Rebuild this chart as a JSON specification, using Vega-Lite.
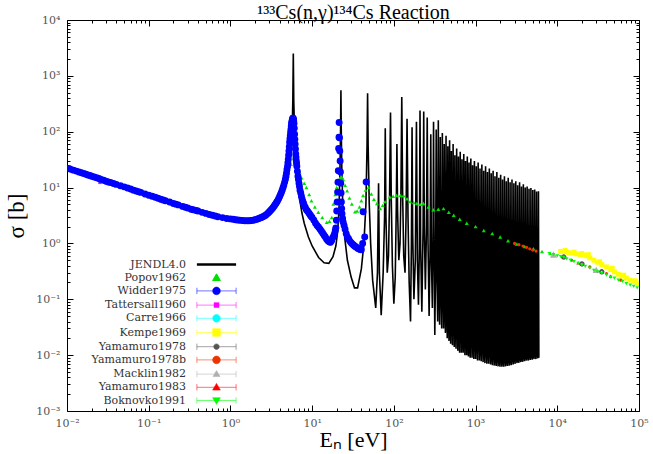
{
  "$schema": "https://vega.github.io/schema/vega-lite/v6.json",
  "width": 572,
  "height": 391,
  "autosize": {"type": "none"},
  "padding": {"left": 67, "top": 20, "right": 14, "bottom": 43},
  "background": "white",
  "config": {
    "font": "Liberation Serif",
    "view": {"stroke": "black", "strokeWidth": 1},
    "axis": {"grid": false, "domain": false, "tickColor": "black", "tickWidth": 1, "labelFont": "DejaVu Serif", "labelFontSize": 11, "labelColor": "#555", "titleFont": "Liberation Serif", "titleFontWeight": "normal", "titleColor": "black"}
  },
  "data": {"values": [
    {"series":"JENDL4.0","E":0.01,"s":22},{"series":"JENDL4.0","E":0.015,"s":18.2},{"series":"JENDL4.0","E":0.02,"s":16},{"series":"JENDL4.0","E":0.03,"s":13},{"series":"JENDL4.0","E":0.05,"s":10.3},{"series":"JENDL4.0","E":0.07,"s":8.7},{"series":"JENDL4.0","E":0.1,"s":7.3},{"series":"JENDL4.0","E":0.15,"s":6},{"series":"JENDL4.0","E":0.2,"s":5.2},{"series":"JENDL4.0","E":0.3,"s":4.3},{"series":"JENDL4.0","E":0.5,"s":3.4},{"series":"JENDL4.0","E":0.7,"s":3.0},{"series":"JENDL4.0","E":1,"s":2.7},{"series":"JENDL4.0","E":1.5,"s":2.55},{"series":"JENDL4.0","E":2,"s":2.65},{"series":"JENDL4.0","E":2.5,"s":2.95},{"series":"JENDL4.0","E":3,"s":3.5},{"series":"JENDL4.0","E":3.5,"s":4.4},{"series":"JENDL4.0","E":4,"s":5.8},{"series":"JENDL4.0","E":4.5,"s":8.5},{"series":"JENDL4.0","E":5,"s":14},{"series":"JENDL4.0","E":5.3,"s":24},{"series":"JENDL4.0","E":5.5,"s":42},{"series":"JENDL4.0","E":5.7,"s":110},{"series":"JENDL4.0","E":5.8,"s":350},{"series":"JENDL4.0","E":5.88,"s":2500},{"series":"JENDL4.0","E":5.96,"s":350},{"series":"JENDL4.0","E":6.1,"s":100},{"series":"JENDL4.0","E":6.3,"s":38},{"series":"JENDL4.0","E":6.6,"s":14},{"series":"JENDL4.0","E":7,"s":6.5},{"series":"JENDL4.0","E":7.5,"s":3.5},{"series":"JENDL4.0","E":8,"s":2.3},{"series":"JENDL4.0","E":9,"s":1.3},{"series":"JENDL4.0","E":10,"s":0.9},{"series":"JENDL4.0","E":12,"s":0.56},{"series":"JENDL4.0","E":14,"s":0.45},{"series":"JENDL4.0","E":16,"s":0.44},{"series":"JENDL4.0","E":18,"s":0.58},{"series":"JENDL4.0","E":19.5,"s":0.9},{"series":"JENDL4.0","E":20.5,"s":1.6},{"series":"JENDL4.0","E":21.3,"s":4},{"series":"JENDL4.0","E":21.9,"s":20},{"series":"JENDL4.0","E":22.3,"s":120},{"series":"JENDL4.0","E":22.5,"s":550},{"series":"JENDL4.0","E":22.7,"s":120},{"series":"JENDL4.0","E":23.1,"s":20},{"series":"JENDL4.0","E":23.8,"s":4},{"series":"JENDL4.0","E":25,"s":1.3},{"series":"JENDL4.0","E":27,"s":0.5},{"series":"JENDL4.0","E":30,"s":0.25},{"series":"JENDL4.0","E":33,"s":0.16},{"series":"JENDL4.0","E":36,"s":0.16},{"series":"JENDL4.0","E":40,"s":0.35},{"series":"JENDL4.0","E":43,"s":1},{"series":"JENDL4.0","E":45.5,"s":5},{"series":"JENDL4.0","E":47,"s":60},{"series":"JENDL4.0","E":47.7,"s":490},{"series":"JENDL4.0","E":48.4,"s":60},{"series":"JENDL4.0","E":50,"s":5},{"series":"JENDL4.0","E":52,"s":1},{"series":"JENDL4.0","E":55,"s":0.22},{"series":"JENDL4.0","E":60,"s":0.07},{"series":"JENDL4.0","E":63,"s":0.3},{"series":"JENDL4.0","E":65,"s":12},{"series":"JENDL4.0","E":66.5,"s":0.3},{"series":"JENDL4.0","E":70,"s":0.052},{"series":"JENDL4.0","E":74,"s":0.3},{"series":"JENDL4.0","E":77,"s":3},{"series":"JENDL4.0","E":78.5,"s":115},{"series":"JENDL4.0","E":80,"s":3},{"series":"JENDL4.0","E":83,"s":0.3},{"series":"JENDL4.0","E":86,"s":0.6},{"series":"JENDL4.0","E":88.5,"s":6},{"series":"JENDL4.0","E":91,"s":220},{"series":"JENDL4.0","E":93,"s":6},{"series":"JENDL4.0","E":96,"s":0.4},{"series":"JENDL4.0","E":100,"s":0.083},{"series":"JENDL4.0","E":104,"s":0.25},{"series":"JENDL4.0","E":107,"s":4},{"series":"JENDL4.0","E":109,"s":60},{"series":"JENDL4.0","E":111,"s":4},{"series":"JENDL4.0","E":115,"s":0.5},{"series":"JENDL4.0","E":119,"s":1},{"series":"JENDL4.0","E":122,"s":8},{"series":"JENDL4.0","E":125,"s":420},{"series":"JENDL4.0","E":128,"s":8},{"series":"JENDL4.0","E":132,"s":0.6},{"series":"JENDL4.0","E":137,"s":0.3},{"series":"JENDL4.0","E":141,"s":3},{"series":"JENDL4.0","E":145,"s":170},{"series":"JENDL4.0","E":149,"s":3},{"series":"JENDL4.0","E":154,"s":0.2},{"series":"JENDL4.0","E":160,"s":0.04},{"series":"JENDL4.0","E":164,"s":1},{"series":"JENDL4.0","E":167,"s":120},{"series":"JENDL4.0","E":170,"s":1.5},{"series":"JENDL4.0","E":176,"s":0.1},{"series":"JENDL4.0","E":183,"s":0.5},{"series":"JENDL4.0","E":189,"s":150},{"series":"JENDL4.0","E":194,"s":0.5},{"series":"JENDL4.0","E":200,"s":0.08},{"series":"JENDL4.0","E":205,"s":0.8},{"series":"JENDL4.0","E":209,"s":240},{"series":"JENDL4.0","E":213,"s":0.8},{"series":"JENDL4.0","E":220,"s":0.06},{"series":"JENDL4.0","E":228,"s":2},{"series":"JENDL4.0","E":232,"s":230},{"series":"JENDL4.0","E":236,"s":2},{"series":"JENDL4.0","E":243,"s":0.15},{"series":"JENDL4.0","E":250,"s":1.5},{"series":"JENDL4.0","E":256,"s":180},{"series":"JENDL4.0","E":262,"s":1},{"series":"JENDL4.0","E":270,"s":0.05},{"series":"JENDL4.0","E":277,"s":0.6},{"series":"JENDL4.0","E":283,"s":90},{"series":"JENDL4.0","E":288,"s":0.6},{"series":"JENDL4.0","E":296,"s":0.07},{"series":"JENDL4.0","E":302,"s":2},{"series":"JENDL4.0","E":306,"s":150},{"series":"JENDL4.0","E":310,"s":2},{"series":"JENDL4.0","E":317,"s":0.023},{"series":"JENDL4.0","E":324,"s":0.4},{"series":"JENDL4.0","E":330,"s":110},{"series":"JENDL4.0","E":336,"s":0.3},{"series":"JENDL4.0","E":344,"s":0.04},{"series":"JENDL4.0","E":350,"s":160},{"series":"JENDL4.0","E":356,"s":0.2},{"series":"JENDL4.0","E":363,"s":0.035},{"series":"JENDL4.0","E":370,"s":80},{"series":"JENDL4.0","E":377,"s":0.15},{"series":"JENDL4.0","E":385,"s":0.03},{"series":"JENDL4.0","E":392,"s":95},{"series":"JENDL4.0","E":398,"s":0.3},{"series":"JENDL4.0","E":406,"s":0.03},{"series":"JENDL4.0","E":413,"s":60},{"series":"JENDL4.0","E":420,"s":0.1},{"series":"JENDL4.0","E":428,"s":0.025},{"series":"JENDL4.0","E":435,"s":85},{"series":"JENDL4.0","E":442,"s":0.2},{"series":"JENDL4.0","E":450,"s":0.02},{"series":"JENDL4.0","E":458,"s":55},{"series":"JENDL4.0","E":465,"s":0.08},{"series":"JENDL4.0","E":473,"s":0.018},{"series":"JENDL4.0","E":481,"s":70},{"series":"JENDL4.0","E":488,"s":0.15},{"series":"JENDL4.0","E":496,"s":0.016},{"series":"JENDL4.0","E":505,"s":45},{"series":"JENDL4.0","E":513,"s":0.06},{"series":"JENDL4.0","E":522,"s":0.015},{"series":"JENDL4.0","E":531,"s":60},{"series":"JENDL4.0","E":540,"s":0.1},{"series":"JENDL4.0","E":549,"s":0.014},{"series":"JENDL4.0","E":558,"s":38},{"series":"JENDL4.0","E":567,"s":0.05},{"series":"JENDL4.0","E":577,"s":0.013},{"series":"JENDL4.0","E":587,"s":50},{"series":"JENDL4.0","E":597,"s":0.08},{"series":"JENDL4.0","E":607,"s":0.012},{"series":"JENDL4.0","E":617,"s":36},{"series":"JENDL4.0","E":627,"s":0.04},{"series":"JENDL4.0","E":638,"s":0.011},{"series":"JENDL4.0","E":649,"s":44},{"series":"JENDL4.0","E":660,"s":0.07},{"series":"JENDL4.0","E":671,"s":0.011},{"series":"JENDL4.0","E":682,"s":32},{"series":"JENDL4.0","E":693,"s":0.03},{"series":"JENDL4.0","E":705,"s":0.011},{"series":"JENDL4.0","E":717,"s":40},{"series":"JENDL4.0","E":729,"s":0.05},{"series":"JENDL4.0","E":741,"s":0.01},{"series":"JENDL4.0","E":753,"s":30},{"series":"JENDL4.0","E":766,"s":0.03},{"series":"JENDL4.0","E":779,"s":0.01},{"series":"JENDL4.0","E":792,"s":36},{"series":"JENDL4.0","E":805,"s":0.05},{"series":"JENDL4.0","E":818,"s":0.0095},{"series":"JENDL4.0","E":832,"s":28},{"series":"JENDL4.0","E":846,"s":0.02},{"series":"JENDL4.0","E":860,"s":0.009},{"series":"JENDL4.0","E":875,"s":33},{"series":"JENDL4.0","E":890,"s":0.04},{"series":"JENDL4.0","E":905,"s":0.009},{"series":"JENDL4.0","E":920,"s":25},{"series":"JENDL4.0","E":936,"s":0.02},{"series":"JENDL4.0","E":952,"s":0.0085},{"series":"JENDL4.0","E":968,"s":30},{"series":"JENDL4.0","E":985,"s":0.03},{"series":"JENDL4.0","E":1002,"s":0.0085},{"series":"JENDL4.0","E":1020,"s":24},{"series":"JENDL4.0","E":1038,"s":0.02},{"series":"JENDL4.0","E":1056,"s":0.008},{"series":"JENDL4.0","E":1075,"s":28},{"series":"JENDL4.0","E":1094,"s":0.025},{"series":"JENDL4.0","E":1113,"s":0.008},{"series":"JENDL4.0","E":1133,"s":22},{"series":"JENDL4.0","E":1153,"s":0.015},{"series":"JENDL4.0","E":1173,"s":0.0078},{"series":"JENDL4.0","E":1194,"s":26},{"series":"JENDL4.0","E":1215,"s":0.02},{"series":"JENDL4.0","E":1236,"s":0.0075},{"series":"JENDL4.0","E":1258,"s":20},{"series":"JENDL4.0","E":1280,"s":0.012},{"series":"JENDL4.0","E":1303,"s":0.0072},{"series":"JENDL4.0","E":1326,"s":24},{"series":"JENDL4.0","E":1350,"s":0.015},{"series":"JENDL4.0","E":1374,"s":0.007},{"series":"JENDL4.0","E":1398,"s":19},{"series":"JENDL4.0","E":1423,"s":0.012},{"series":"JENDL4.0","E":1448,"s":0.007},{"series":"JENDL4.0","E":1474,"s":22},{"series":"JENDL4.0","E":1500,"s":0.015},{"series":"JENDL4.0","E":1527,"s":0.0068},{"series":"JENDL4.0","E":1554,"s":18},{"series":"JENDL4.0","E":1582,"s":0.01},{"series":"JENDL4.0","E":1610,"s":0.0066},{"series":"JENDL4.0","E":1639,"s":20},{"series":"JENDL4.0","E":1668,"s":0.012},{"series":"JENDL4.0","E":1698,"s":0.0065},{"series":"JENDL4.0","E":1728,"s":16},{"series":"JENDL4.0","E":1759,"s":0.009},{"series":"JENDL4.0","E":1790,"s":0.0064},{"series":"JENDL4.0","E":1822,"s":19},{"series":"JENDL4.0","E":1855,"s":0.01},{"series":"JENDL4.0","E":1888,"s":0.0063},{"series":"JENDL4.0","E":1922,"s":15},{"series":"JENDL4.0","E":1956,"s":0.008},{"series":"JENDL4.0","E":1991,"s":0.0062},{"series":"JENDL4.0","E":2027,"s":17},{"series":"JENDL4.0","E":2063,"s":0.009},{"series":"JENDL4.0","E":2100,"s":0.0062},{"series":"JENDL4.0","E":2138,"s":14},{"series":"JENDL4.0","E":2176,"s":0.008},{"series":"JENDL4.0","E":2215,"s":0.0062},{"series":"JENDL4.0","E":2255,"s":16},{"series":"JENDL4.0","E":2295,"s":0.009},{"series":"JENDL4.0","E":2336,"s":0.0063},{"series":"JENDL4.0","E":2378,"s":13},{"series":"JENDL4.0","E":2420,"s":0.008},{"series":"JENDL4.0","E":2464,"s":0.0064},{"series":"JENDL4.0","E":2508,"s":15},{"series":"JENDL4.0","E":2553,"s":0.009},{"series":"JENDL4.0","E":2599,"s":0.0065},{"series":"JENDL4.0","E":2645,"s":12.5},{"series":"JENDL4.0","E":2693,"s":0.008},{"series":"JENDL4.0","E":2741,"s":0.0066},{"series":"JENDL4.0","E":2790,"s":14},{"series":"JENDL4.0","E":2840,"s":0.009},{"series":"JENDL4.0","E":2891,"s":0.0068},{"series":"JENDL4.0","E":2943,"s":12},{"series":"JENDL4.0","E":2996,"s":0.0085},{"series":"JENDL4.0","E":3050,"s":0.007},{"series":"JENDL4.0","E":3104,"s":13},{"series":"JENDL4.0","E":3160,"s":0.009},{"series":"JENDL4.0","E":3217,"s":0.0072},{"series":"JENDL4.0","E":3274,"s":11},{"series":"JENDL4.0","E":3333,"s":0.0085},{"series":"JENDL4.0","E":3393,"s":0.0073},{"series":"JENDL4.0","E":3454,"s":12.5},{"series":"JENDL4.0","E":3516,"s":0.009},{"series":"JENDL4.0","E":3579,"s":0.0075},{"series":"JENDL4.0","E":3643,"s":10.5},{"series":"JENDL4.0","E":3708,"s":0.009},{"series":"JENDL4.0","E":3775,"s":0.0076},{"series":"JENDL4.0","E":3843,"s":11.5},{"series":"JENDL4.0","E":3912,"s":0.0095},{"series":"JENDL4.0","E":3982,"s":0.0078},{"series":"JENDL4.0","E":4053,"s":10},{"series":"JENDL4.0","E":4126,"s":0.0095},{"series":"JENDL4.0","E":4200,"s":0.008},{"series":"JENDL4.0","E":4275,"s":10.5},{"series":"JENDL4.0","E":4352,"s":0.01},{"series":"JENDL4.0","E":4430,"s":0.008},{"series":"JENDL4.0","E":4509,"s":9.5},{"series":"JENDL4.0","E":4590,"s":0.01},{"series":"JENDL4.0","E":4672,"s":0.0082},{"series":"JENDL4.0","E":4756,"s":9.8},{"series":"JENDL4.0","E":4841,"s":0.01},{"series":"JENDL4.0","E":4928,"s":0.0083},{"series":"JENDL4.0","E":5016,"s":9},{"series":"JENDL4.0","E":5106,"s":0.01},{"series":"JENDL4.0","E":5198,"s":0.0085},{"series":"JENDL4.0","E":5291,"s":9.2},{"series":"JENDL4.0","E":5386,"s":0.011},{"series":"JENDL4.0","E":5482,"s":0.0085},{"series":"JENDL4.0","E":5581,"s":8.5},{"series":"JENDL4.0","E":5681,"s":0.01},{"series":"JENDL4.0","E":5783,"s":0.0088},{"series":"JENDL4.0","E":5886,"s":8.6},{"series":"JENDL4.0","E":5950,"s":0.009},

    {"series":"Popov1962","E":1.0,"s":2.8},{"series":"Popov1962","E":1.3,"s":2.6},{"series":"Popov1962","E":1.6,"s":2.6},{"series":"Popov1962","E":2.0,"s":2.7},{"series":"Popov1962","E":2.5,"s":3.0},{"series":"Popov1962","E":3.0,"s":3.5},{"series":"Popov1962","E":3.5,"s":5},{"series":"Popov1962","E":4.0,"s":7},{"series":"Popov1962","E":4.5,"s":10},{"series":"Popov1962","E":5.0,"s":16},{"series":"Popov1962","E":5.5,"s":26},{"series":"Popov1962","E":5.9,"s":33},{"series":"Popov1962","E":6.2,"s":35},{"series":"Popov1962","E":6.6,"s":25},{"series":"Popov1962","E":7.0,"s":19},{"series":"Popov1962","E":7.4,"s":15},{"series":"Popov1962","E":8.0,"s":12},{"series":"Popov1962","E":8.5,"s":10},{"series":"Popov1962","E":9.2,"s":7.5},{"series":"Popov1962","E":9.8,"s":5.8},{"series":"Popov1962","E":10.8,"s":4.5},{"series":"Popov1962","E":11.9,"s":3.6},{"series":"Popov1962","E":13.3,"s":2.9},{"series":"Popov1962","E":15.1,"s":2.4},{"series":"Popov1962","E":16.3,"s":2.5},{"series":"Popov1962","E":17.4,"s":2.9},{"series":"Popov1962","E":18.2,"s":5.1},{"series":"Popov1962","E":19.2,"s":7.5},{"series":"Popov1962","E":20,"s":10},{"series":"Popov1962","E":21,"s":12.5},{"series":"Popov1962","E":22,"s":15},{"series":"Popov1962","E":23,"s":15.5},{"series":"Popov1962","E":24,"s":14},{"series":"Popov1962","E":25.3,"s":11},{"series":"Popov1962","E":26.8,"s":8.8},{"series":"Popov1962","E":28.6,"s":6.5},{"series":"Popov1962","E":30.6,"s":5.1},{"series":"Popov1962","E":33.5,"s":3.7},{"series":"Popov1962","E":35.5,"s":3.8},{"series":"Popov1962","E":38,"s":4.5},{"series":"Popov1962","E":40,"s":5.8},{"series":"Popov1962","E":42,"s":7.2},{"series":"Popov1962","E":45,"s":9},{"series":"Popov1962","E":49,"s":10},{"series":"Popov1962","E":53,"s":7.7},{"series":"Popov1962","E":57,"s":6.2},{"series":"Popov1962","E":62,"s":5.2},{"series":"Popov1962","E":68,"s":4.2},{"series":"Popov1962","E":73,"s":4.8},{"series":"Popov1962","E":78,"s":5.6},{"series":"Popov1962","E":89,"s":6.8},{"series":"Popov1962","E":98,"s":7.0},{"series":"Popov1962","E":108,"s":7.2},{"series":"Popov1962","E":120,"s":7.2},{"series":"Popov1962","E":131,"s":7.2},{"series":"Popov1962","E":145,"s":6.3},{"series":"Popov1962","E":158,"s":5.6},{"series":"Popov1962","E":175,"s":5.4},{"series":"Popov1962","E":191,"s":5.2},{"series":"Popov1962","E":210,"s":5.0},{"series":"Popov1962","E":230,"s":5.2},{"series":"Popov1962","E":265,"s":4.5},{"series":"Popov1962","E":304,"s":4.0},{"series":"Popov1962","E":350,"s":4.1},{"series":"Popov1962","E":405,"s":4.2},{"series":"Popov1962","E":470,"s":3.6},{"series":"Popov1962","E":540,"s":3.2},{"series":"Popov1962","E":640,"s":2.7},{"series":"Popov1962","E":780,"s":2.3},{"series":"Popov1962","E":1000,"s":2.0},{"series":"Popov1962","E":1260,"s":1.7},{"series":"Popov1962","E":1600,"s":1.5},{"series":"Popov1962","E":2000,"s":1.3},{"series":"Popov1962","E":2500,"s":1.12},{"series":"Popov1962","E":3200,"s":0.98},{"series":"Popov1962","E":4000,"s":0.88},{"series":"Popov1962","E":5100,"s":0.8},{"series":"Popov1962","E":6500,"s":0.72},{"series":"Popov1962","E":8200,"s":0.66},

    {"series":"Widder1975","E":0.0105,"s":22},{"series":"Widder1975","E":0.011,"s":21.3},{"series":"Widder1975","E":0.012,"s":20.5},{"series":"Widder1975","E":0.013,"s":19.7},{"series":"Widder1975","E":0.014,"s":19},{"series":"Widder1975","E":0.015,"s":18.4},{"series":"Widder1975","E":0.016,"s":17.8},{"series":"Widder1975","E":0.017,"s":17.3},{"series":"Widder1975","E":0.018,"s":16.8},{"series":"Widder1975","E":0.019,"s":16.4},{"series":"Widder1975","E":0.02,"s":16},{"series":"Widder1975","E":0.0215,"s":15.5},{"series":"Widder1975","E":0.023,"s":15},{"series":"Widder1975","E":0.0245,"s":14.5},{"series":"Widder1975","E":0.026,"s":14},{"series":"Widder1975","E":0.028,"s":13.5},{"series":"Widder1975","E":0.03,"s":13},{"series":"Widder1975","E":0.032,"s":12.6},{"series":"Widder1975","E":0.034,"s":12.3},{"series":"Widder1975","E":0.037,"s":11.8},{"series":"Widder1975","E":0.04,"s":11.4},{"series":"Widder1975","E":0.045,"s":10.8},{"series":"Widder1975","E":0.05,"s":10.3},{"series":"Widder1975","E":0.055,"s":9.8},{"series":"Widder1975","E":0.06,"s":9.4},{"series":"Widder1975","E":0.065,"s":9.0},{"series":"Widder1975","E":0.07,"s":8.7},{"series":"Widder1975","E":0.075,"s":8.4},{"series":"Widder1975","E":0.08,"s":8.2},{"series":"Widder1975","E":0.09,"s":7.7},{"series":"Widder1975","E":0.1,"s":7.3},{"series":"Widder1975","E":0.11,"s":7.0},{"series":"Widder1975","E":0.12,"s":6.7},{"series":"Widder1975","E":0.13,"s":6.45},{"series":"Widder1975","E":0.14,"s":6.2},{"series":"Widder1975","E":0.15,"s":6.0},{"series":"Widder1975","E":0.16,"s":5.8},{"series":"Widder1975","E":0.18,"s":5.5},{"series":"Widder1975","E":0.2,"s":5.2},{"series":"Widder1975","E":0.215,"s":5.05},{"series":"Widder1975","E":0.23,"s":4.9},{"series":"Widder1975","E":0.26,"s":4.6},{"series":"Widder1975","E":0.28,"s":4.45},{"series":"Widder1975","E":0.3,"s":4.3},{"series":"Widder1975","E":0.33,"s":4.1},{"series":"Widder1975","E":0.35,"s":4.0},{"series":"Widder1975","E":0.38,"s":3.9},{"series":"Widder1975","E":0.4,"s":3.8},{"series":"Widder1975","E":0.45,"s":3.6},{"series":"Widder1975","E":0.5,"s":3.45},{"series":"Widder1975","E":0.55,"s":3.3},{"series":"Widder1975","E":0.6,"s":3.2},{"series":"Widder1975","E":0.65,"s":3.1},{"series":"Widder1975","E":0.7,"s":3.0},{"series":"Widder1975","E":0.8,"s":2.9},{"series":"Widder1975","E":0.9,"s":2.8},{"series":"Widder1975","E":1.0,"s":2.75},{"series":"Widder1975","E":1.08,"s":2.7},{"series":"Widder1975","E":1.15,"s":2.65},{"series":"Widder1975","E":1.22,"s":2.62},{"series":"Widder1975","E":1.3,"s":2.6},{"series":"Widder1975","E":1.4,"s":2.57},{"series":"Widder1975","E":1.5,"s":2.55},{"series":"Widder1975","E":1.6,"s":2.55},{"series":"Widder1975","E":1.7,"s":2.55},{"series":"Widder1975","E":1.8,"s":2.57},{"series":"Widder1975","E":1.9,"s":2.6},{"series":"Widder1975","E":2.0,"s":2.65},{"series":"Widder1975","E":2.1,"s":2.7},{"series":"Widder1975","E":2.2,"s":2.77},{"series":"Widder1975","E":2.3,"s":2.85},{"series":"Widder1975","E":2.4,"s":2.92},{"series":"Widder1975","E":2.5,"s":3.0},{"series":"Widder1975","E":2.6,"s":3.1},{"series":"Widder1975","E":2.7,"s":3.2},{"series":"Widder1975","E":2.8,"s":3.35},{"series":"Widder1975","E":2.9,"s":3.5},{"series":"Widder1975","E":3.0,"s":3.7},{"series":"Widder1975","E":3.1,"s":3.9},{"series":"Widder1975","E":3.2,"s":4.1},{"series":"Widder1975","E":3.3,"s":4.3},{"series":"Widder1975","E":3.4,"s":4.6},{"series":"Widder1975","E":3.5,"s":4.9},{"series":"Widder1975","E":3.6,"s":5.2},{"series":"Widder1975","E":3.7,"s":5.5},{"series":"Widder1975","E":3.8,"s":5.9},{"series":"Widder1975","E":3.9,"s":6.4},{"series":"Widder1975","E":4.0,"s":6.9},{"series":"Widder1975","E":4.1,"s":7.5},{"series":"Widder1975","E":4.2,"s":8.2},{"series":"Widder1975","E":4.3,"s":9},{"series":"Widder1975","E":4.4,"s":9.9},{"series":"Widder1975","E":4.5,"s":11},{"series":"Widder1975","E":4.6,"s":12.4},{"series":"Widder1975","E":4.7,"s":14},{"series":"Widder1975","E":4.78,"s":16},{"series":"Widder1975","E":4.85,"s":18},{"series":"Widder1975","E":4.92,"s":21},{"series":"Widder1975","E":5.0,"s":24},{"series":"Widder1975","E":5.05,"s":28},{"series":"Widder1975","E":5.1,"s":32},{"series":"Widder1975","E":5.15,"s":38},{"series":"Widder1975","E":5.2,"s":45},{"series":"Widder1975","E":5.25,"s":54},{"series":"Widder1975","E":5.3,"s":65},{"series":"Widder1975","E":5.35,"s":75},{"series":"Widder1975","E":5.4,"s":85},{"series":"Widder1975","E":5.45,"s":97},{"series":"Widder1975","E":5.5,"s":110},{"series":"Widder1975","E":5.55,"s":125},{"series":"Widder1975","E":5.6,"s":140},{"series":"Widder1975","E":5.65,"s":150},{"series":"Widder1975","E":5.7,"s":160},{"series":"Widder1975","E":5.75,"s":168},{"series":"Widder1975","E":5.8,"s":175},{"series":"Widder1975","E":5.85,"s":175},{"series":"Widder1975","E":5.9,"s":170},{"series":"Widder1975","E":5.95,"s":155},{"series":"Widder1975","E":6.0,"s":140},{"series":"Widder1975","E":6.05,"s":115},{"series":"Widder1975","E":6.1,"s":90},{"series":"Widder1975","E":6.15,"s":73},{"series":"Widder1975","E":6.2,"s":60},{"series":"Widder1975","E":6.25,"s":49},{"series":"Widder1975","E":6.3,"s":40},{"series":"Widder1975","E":6.35,"s":35},{"series":"Widder1975","E":6.4,"s":30},{"series":"Widder1975","E":6.45,"s":27},{"series":"Widder1975","E":6.5,"s":24},{"series":"Widder1975","E":6.6,"s":19.5},{"series":"Widder1975","E":6.7,"s":16},{"series":"Widder1975","E":6.8,"s":14},{"series":"Widder1975","E":6.9,"s":12},{"series":"Widder1975","E":7.0,"s":10.4},{"series":"Widder1975","E":7.1,"s":9},{"series":"Widder1975","E":7.25,"s":8},{"series":"Widder1975","E":7.4,"s":7},{"series":"Widder1975","E":7.55,"s":6.2},{"series":"Widder1975","E":7.7,"s":5.6},{"series":"Widder1975","E":7.85,"s":5.2},{"series":"Widder1975","E":8,"s":4.8},{"series":"Widder1975","E":8.25,"s":4.4},{"series":"Widder1975","E":8.5,"s":4},{"series":"Widder1975","E":8.75,"s":3.8},{"series":"Widder1975","E":9,"s":3.6},{"series":"Widder1975","E":9.25,"s":3.4},{"series":"Widder1975","E":9.5,"s":3.2},{"series":"Widder1975","E":9.75,"s":3.05},{"series":"Widder1975","E":10,"s":2.9},{"series":"Widder1975","E":10.5,"s":2.6},{"series":"Widder1975","E":11,"s":2.3},{"series":"Widder1975","E":11.5,"s":2.1},{"series":"Widder1975","E":12,"s":1.95},{"series":"Widder1975","E":12.5,"s":1.8},{"series":"Widder1975","E":13,"s":1.65},{"series":"Widder1975","E":13.5,"s":1.52},{"series":"Widder1975","E":14,"s":1.4},{"series":"Widder1975","E":14.5,"s":1.3},{"series":"Widder1975","E":15,"s":1.2},{"series":"Widder1975","E":15.5,"s":1.13},{"series":"Widder1975","E":16,"s":1.08},{"series":"Widder1975","E":16.4,"s":1.06},{"series":"Widder1975","E":16.8,"s":1.05},{"series":"Widder1975","E":17.3,"s":1.12},{"series":"Widder1975","E":17.8,"s":1.25},{"series":"Widder1975","E":18.3,"s":1.35},{"series":"Widder1975","E":18.8,"s":1.5},{"series":"Widder1975","E":19.2,"s":1.7},{"series":"Widder1975","E":19.5,"s":1.9},{"series":"Widder1975","E":19.8,"s":2.6},{"series":"Widder1975","E":20,"s":3.8},{"series":"Widder1975","E":20.25,"s":5.5},{"series":"Widder1975","E":20.5,"s":8.3},{"series":"Widder1975","E":20.7,"s":12.5},{"series":"Widder1975","E":20.9,"s":20},{"series":"Widder1975","E":21.1,"s":50},{"series":"Widder1975","E":21.3,"s":80},{"series":"Widder1975","E":21.4,"s":146},{"series":"Widder1975","E":21.6,"s":78},{"series":"Widder1975","E":21.8,"s":45},{"series":"Widder1975","E":22,"s":30},{"series":"Widder1975","E":22.2,"s":19},{"series":"Widder1975","E":22.4,"s":12},{"series":"Widder1975","E":22.6,"s":8},{"series":"Widder1975","E":22.8,"s":5.5},{"series":"Widder1975","E":23.0,"s":4.2},{"series":"Widder1975","E":23.2,"s":3.4},{"series":"Widder1975","E":23.6,"s":2.8},{"series":"Widder1975","E":24,"s":2.4},{"series":"Widder1975","E":24.6,"s":2.1},{"series":"Widder1975","E":25.3,"s":1.8},{"series":"Widder1975","E":26.1,"s":1.5},{"series":"Widder1975","E":27,"s":1.3},{"series":"Widder1975","E":28,"s":1.2},{"series":"Widder1975","E":28.9,"s":1.1},{"series":"Widder1975","E":30,"s":1.03},{"series":"Widder1975","E":31,"s":0.98},{"series":"Widder1975","E":32,"s":0.94},{"series":"Widder1975","E":33,"s":0.9},{"series":"Widder1975","E":34,"s":0.87},{"series":"Widder1975","E":35,"s":0.85},{"series":"Widder1975","E":36,"s":0.82},{"series":"Widder1975","E":37,"s":0.8},{"series":"Widder1975","E":38.5,"s":0.78},{"series":"Widder1975","E":40,"s":0.77},{"series":"Widder1975","E":41.5,"s":1.0},{"series":"Widder1975","E":42,"s":3.7},{"series":"Widder1975","E":44,"s":1.3},{"series":"Widder1975","E":45.8,"s":12.6},

    {"series":"Tattersall1960","E":0.0253,"s":12.4},
    {"series":"Carre1966","E":0.0253,"s":14.2},

    {"series":"Kempe1969","E":11000,"s":0.72},{"series":"Kempe1969","E":12000,"s":0.71},{"series":"Kempe1969","E":12500,"s":0.75},{"series":"Kempe1969","E":13500,"s":0.69},{"series":"Kempe1969","E":15000,"s":0.67},{"series":"Kempe1969","E":16000,"s":0.7},{"series":"Kempe1969","E":17000,"s":0.65},{"series":"Kempe1969","E":19000,"s":0.63},{"series":"Kempe1969","E":20000,"s":0.66},{"series":"Kempe1969","E":21000,"s":0.62},{"series":"Kempe1969","E":23000,"s":0.6},{"series":"Kempe1969","E":24000,"s":0.63},{"series":"Kempe1969","E":25000,"s":0.55},{"series":"Kempe1969","E":28000,"s":0.5},{"series":"Kempe1969","E":31000,"s":0.46},{"series":"Kempe1969","E":33000,"s":0.47},{"series":"Kempe1969","E":35000,"s":0.42},{"series":"Kempe1969","E":40000,"s":0.38},{"series":"Kempe1969","E":45000,"s":0.34},{"series":"Kempe1969","E":47000,"s":0.36},{"series":"Kempe1969","E":50000,"s":0.31},{"series":"Kempe1969","E":56000,"s":0.28},{"series":"Kempe1969","E":62000,"s":0.26},{"series":"Kempe1969","E":65000,"s":0.27},{"series":"Kempe1969","E":70000,"s":0.24},{"series":"Kempe1969","E":78000,"s":0.22},{"series":"Kempe1969","E":86000,"s":0.21},{"series":"Kempe1969","E":90000,"s":0.215},{"series":"Kempe1969","E":95000,"s":0.195},{"series":"Kempe1969","E":100000,"s":0.19},

    {"series":"Yamamuro1978","E":12000,"s":0.57},{"series":"Yamamuro1978","E":20000,"s":0.43},{"series":"Yamamuro1978","E":35000,"s":0.31},
    {"series":"Yamamuro1978b","E":3000,"s":1.0},{"series":"Yamamuro1978b","E":3400,"s":0.95},{"series":"Yamamuro1978b","E":3800,"s":0.9},{"series":"Yamamuro1978b","E":4200,"s":0.85},{"series":"Yamamuro1978b","E":4600,"s":0.8},{"series":"Yamamuro1978b","E":5000,"s":0.76},{"series":"Yamamuro1978b","E":5500,"s":0.73},{"series":"Yamamuro1978b","E":15000,"s":0.5},{"series":"Yamamuro1978b","E":25000,"s":0.38},{"series":"Yamamuro1978b","E":40000,"s":0.29},{"series":"Yamamuro1978b","E":60000,"s":0.22},
    {"series":"Macklin1982","E":9000,"s":0.62},{"series":"Macklin1982","E":30000,"s":0.33},
    {"series":"Yamamuro1983","E":18000,"s":0.45},{"series":"Yamamuro1983","E":45000,"s":0.26},

    {"series":"Boknovko1991","E":8000,"s":0.66},{"series":"Boknovko1991","E":9000,"s":0.63},{"series":"Boknovko1991","E":10000,"s":0.6},{"series":"Boknovko1991","E":11000,"s":0.58},{"series":"Boknovko1991","E":12000,"s":0.56},{"series":"Boknovko1991","E":13000,"s":0.53},{"series":"Boknovko1991","E":14500,"s":0.5},{"series":"Boknovko1991","E":16000,"s":0.47},{"series":"Boknovko1991","E":18000,"s":0.44},{"series":"Boknovko1991","E":20000,"s":0.41},{"series":"Boknovko1991","E":22000,"s":0.39},{"series":"Boknovko1991","E":25000,"s":0.36},{"series":"Boknovko1991","E":28000,"s":0.33},{"series":"Boknovko1991","E":31000,"s":0.31},{"series":"Boknovko1991","E":35000,"s":0.29},{"series":"Boknovko1991","E":40000,"s":0.27},{"series":"Boknovko1991","E":45000,"s":0.25},{"series":"Boknovko1991","E":50000,"s":0.24},{"series":"Boknovko1991","E":56000,"s":0.22},{"series":"Boknovko1991","E":63000,"s":0.21},{"series":"Boknovko1991","E":70000,"s":0.19},{"series":"Boknovko1991","E":78000,"s":0.18},{"series":"Boknovko1991","E":86000,"s":0.17},{"series":"Boknovko1991","E":95000,"s":0.16}
  ]},
  "resolve": {"axis": {"x": "independent", "y": "independent"}},
  "layer": [
    {
      "transform": [{"filter": "datum.series === 'JENDL4.0'"}],
      "mark": {"type": "line", "strokeWidth": 1.6, "clip": true},
      "encoding": {
        "x": {"field": "E", "type": "quantitative", "scale": {"type": "log", "domain": [0.01, 100000], "nice": false},
          "axis": {"orient": "bottom", "values": [0.01, 0.1, 1, 10, 100, 1000, 10000, 100000], "ticks": false, "labelPadding": 6, "labelFlush": false, "labelOverlap": false,
            "labelExpr": "['10⁻³','10⁻²','10⁻¹','10⁰','10¹','10²','10³','10⁴','10⁵'][round(log(datum.value)/LN10)+3]",
            "title": "Eₙ [eV]", "titleFontSize": 22, "titlePadding": 1}},
        "y": {"field": "s", "type": "quantitative", "scale": {"type": "log", "domain": [0.001, 10000], "nice": false},
          "axis": {"orient": "left", "values": [0.001, 0.01, 0.1, 1, 10, 100, 1000, 10000], "ticks": false, "labelPadding": 7, "labelOverlap": false, "labelFlush": false,
            "labelExpr": "['10⁻³','10⁻²','10⁻¹','10⁰','10¹','10²','10³','10⁴','10⁵'][round(log(datum.value)/LN10)+3]",
            "title": "σ [b]", "titleFontSize": 23, "titlePadding": 7}},
        "color": {"field": "series", "type": "nominal",
          "scale": {"domain": ["JENDL4.0","Popov1962","Widder1975","Tattersall1960","Carre1966","Kempe1969","Yamamuro1978","Yamamuro1978b","Macklin1982","Yamamuro1983","Boknovko1991"],
                    "range": ["#000000","#00e000","#0000ff","#ff00ff","#00ffff","#ffff00","#555555","#ee3300","#b0b0b0","#ff0000","#00ff00"]},
          "legend": {"orient": "none", "legendX": 22, "legendY": 239, "title": null, "padding": 0, "rowPadding": 1.2,
            "labelFont": "DejaVu Serif", "labelFontSize": 11, "labelColor": "#333", "labelAlign": "right", "labelOffset": -36, "symbolOffset": 122, "labelLimit": 200,
            "encode": {"symbols": {"update": {
              "shape": {"signal": "['M-2.8,0H2.8','M0,-0.55L0.55,0.4L-0.55,0.4Z','M-2.8,0H2.8M-2.8,-0.45V0.45M2.8,-0.45V0.45M0.55,0A0.55,0.55,0,1,1,-0.55,0A0.55,0.55,0,1,1,0.55,0Z','M-2.8,0H2.8M-2.8,-0.45V0.45M2.8,-0.45V0.45M-0.35,-0.35H0.35V0.35H-0.35Z','M-2.8,0H-0.55M0.55,0H2.8M-2.8,-0.45V0.45M2.8,-0.45V0.45M0.55,0A0.55,0.55,0,1,1,-0.55,0A0.55,0.55,0,1,1,0.55,0Z','M-2.8,0H2.8M-2.8,-0.45V0.45M2.8,-0.45V0.45M-0.55,-0.55H0.55V0.55H-0.55Z','M-2.8,0H-0.4M0.4,0H2.8M-2.8,-0.45V0.45M2.8,-0.45V0.45M0.4,0A0.4,0.4,0,1,1,-0.4,0A0.4,0.4,0,1,1,0.4,0Z','M-2.8,0H2.8M-2.8,-0.45V0.45M2.8,-0.45V0.45M0.55,0A0.55,0.55,0,1,1,-0.55,0A0.55,0.55,0,1,1,0.55,0Z','M-2.8,0H2.8M-2.8,-0.45V0.45M2.8,-0.45V0.45M0,-0.5L0.5,0.35L-0.5,0.35Z','M-2.8,0H2.8M-2.8,-0.45V0.45M2.8,-0.45V0.45M0,-0.55L0.55,0.4L-0.55,0.4Z','M-2.8,0H2.8M-2.8,-0.45V0.45M2.8,-0.45V0.45M0,0.55L0.55,-0.4L-0.55,-0.4Z'][indexof(['JENDL4.0','Popov1962','Widder1975','Tattersall1960','Carre1966','Kempe1969','Yamamuro1978','Yamamuro1978b','Macklin1982','Yamamuro1983','Boknovko1991'], datum.value)]"},
              "size": {"value": 196},
              "fill": {"signal": "['transparent','#00e000','#0000ff','#ff00ff','#ffffff','#ffff00','#ffffff','#ff4500','#ffffff','#ff0000','#00ff00'][indexof(['JENDL4.0','Popov1962','Widder1975','Tattersall1960','Carre1966','Kempe1969','Yamamuro1978','Yamamuro1978b','Macklin1982','Yamamuro1983','Boknovko1991'], datum.value)]"},
              "stroke": {"signal": "['#222222','#00e000','#0000ff','#ff00ff','#00e0e0','#f0f000','#555555','#ff4500','#a0a0a0','#ff0000','#00e000'][indexof(['JENDL4.0','Popov1962','Widder1975','Tattersall1960','Carre1966','Kempe1969','Yamamuro1978','Yamamuro1978b','Macklin1982','Yamamuro1983','Boknovko1991'], datum.value)]"},
              "strokeWidth": {"signal": "datum.value === 'JENDL4.0' ? 2.5 : 1"},
              "strokeOpacity": {"signal": "datum.value === 'JENDL4.0' || datum.value === 'Popov1962' ? 1 : 0.55"},
              "fillOpacity": {"value": 1},
              "opacity": {"value": 1}
            }}}
          }}
      }
    },
    {
      "transform": [{"filter": "datum.series === 'Popov1962'"}],
      "mark": {"type": "point", "filled": true, "shape": "triangle-up", "size": 16, "opacity": 1, "clip": true},
      "encoding": {
        "x": {"field": "E", "type": "quantitative", "scale": {"type": "log", "domain": [0.01, 100000], "nice": false},
          "axis": {"orient": "bottom", "values": [0.01, 0.1, 1, 10, 100, 1000, 10000, 100000], "tickSize": -6, "labels": false, "title": null}},
        "y": {"field": "s", "type": "quantitative", "scale": {"type": "log", "domain": [0.001, 10000], "nice": false},
          "axis": {"orient": "left", "values": [0.001, 0.01, 0.1, 1, 10, 100, 1000, 10000], "tickSize": -6, "labels": false, "title": null}},
        "color": {"field": "series", "type": "nominal"}
      }
    },
    {
      "transform": [{"filter": "datum.series === 'Tattersall1960'"}],
      "mark": {"type": "point", "filled": true, "shape": "square", "size": 12, "opacity": 1, "clip": true},
      "encoding": {
        "x": {"field": "E", "type": "quantitative", "scale": {"type": "log", "domain": [0.01, 100000], "nice": false},
          "axis": {"orient": "top", "values": [0.01, 0.1, 1, 10, 100, 1000, 10000, 100000], "tickSize": -6, "labels": false,
            "title": "¹³³Cs(n,γ)¹³⁴Cs Reaction", "titleFont": "Liberation Serif", "titleFontSize": 20, "titleColor": "black", "titleBaseline": "alphabetic", "titlePadding": 1}},
        "y": {"field": "s", "type": "quantitative", "scale": {"type": "log", "domain": [0.001, 10000], "nice": false},
          "axis": {"orient": "right", "values": [0.001, 0.01, 0.1, 1, 10, 100, 1000, 10000], "tickSize": -6, "labels": false, "title": null}},
        "color": {"field": "series", "type": "nominal"}
      }
    },
    {
      "transform": [{"filter": "datum.series === 'Carre1966'"}],
      "mark": {"type": "point", "filled": false, "shape": "circle", "size": 25, "opacity": 1, "clip": true},
      "encoding": {
        "x": {"field": "E", "type": "quantitative", "scale": {"type": "log", "domain": [0.01, 100000], "nice": false},
          "axis": {"orient": "top", "values": [0.02,0.03,0.04,0.05,0.06,0.07,0.08,0.09,0.2,0.3,0.4,0.5,0.6,0.7,0.8,0.9,2,3,4,5,6,7,8,9,20,30,40,50,60,70,80,90,200,300,400,500,600,700,800,900,2000,3000,4000,5000,6000,7000,8000,9000,20000,30000,40000,50000,60000,70000,80000,90000], "tickSize": -3, "labels": false, "title": null}},
        "y": {"field": "s", "type": "quantitative", "scale": {"type": "log", "domain": [0.001, 10000], "nice": false},
          "axis": {"orient": "right", "values": [0.002,0.003,0.004,0.005,0.006,0.007,0.008,0.009,0.02,0.03,0.04,0.05,0.06,0.07,0.08,0.09,0.2,0.3,0.4,0.5,0.6,0.7,0.8,0.9,2,3,4,5,6,7,8,9,20,30,40,50,60,70,80,90,200,300,400,500,600,700,800,900,2000,3000,4000,5000,6000,7000,8000,9000], "tickSize": -3, "labels": false, "title": null}},
        "color": {"field": "series", "type": "nominal"}
      }
    },
    {
      "transform": [{"filter": "datum.series === 'Widder1975'"}],
      "mark": {"type": "point", "filled": true, "shape": "circle", "size": 48, "opacity": 1, "clip": true},
      "encoding": {
        "x": {"field": "E", "type": "quantitative", "scale": {"type": "log", "domain": [0.01, 100000], "nice": false},
          "axis": {"orient": "bottom", "values": [0.02,0.03,0.04,0.05,0.06,0.07,0.08,0.09,0.2,0.3,0.4,0.5,0.6,0.7,0.8,0.9,2,3,4,5,6,7,8,9,20,30,40,50,60,70,80,90,200,300,400,500,600,700,800,900,2000,3000,4000,5000,6000,7000,8000,9000,20000,30000,40000,50000,60000,70000,80000,90000], "tickSize": -3, "labels": false, "title": null}},
        "y": {"field": "s", "type": "quantitative", "scale": {"type": "log", "domain": [0.001, 10000], "nice": false},
          "axis": {"orient": "left", "values": [0.002,0.003,0.004,0.005,0.006,0.007,0.008,0.009,0.02,0.03,0.04,0.05,0.06,0.07,0.08,0.09,0.2,0.3,0.4,0.5,0.6,0.7,0.8,0.9,2,3,4,5,6,7,8,9,20,30,40,50,60,70,80,90,200,300,400,500,600,700,800,900,2000,3000,4000,5000,6000,7000,8000,9000], "tickSize": -3, "labels": false, "title": null}},
        "color": {"field": "series", "type": "nominal"}
      }
    },
    {
      "transform": [{"filter": "datum.series === 'Kempe1969'"}],
      "mark": {"type": "point", "filled": true, "shape": "square", "size": 24, "opacity": 1, "clip": true},
      "encoding": {
        "x": {"field": "E", "type": "quantitative", "scale": {"type": "log", "domain": [0.01, 100000], "nice": false}, "axis": null},
        "y": {"field": "s", "type": "quantitative", "scale": {"type": "log", "domain": [0.001, 10000], "nice": false}, "axis": null},
        "color": {"field": "series", "type": "nominal"}
      }
    },
    {
      "transform": [{"filter": "datum.series === 'Yamamuro1978'"}],
      "mark": {"type": "point", "filled": false, "shape": "circle", "size": 12, "opacity": 1, "clip": true},
      "encoding": {
        "x": {"field": "E", "type": "quantitative", "scale": {"type": "log", "domain": [0.01, 100000], "nice": false}, "axis": null},
        "y": {"field": "s", "type": "quantitative", "scale": {"type": "log", "domain": [0.001, 10000], "nice": false}, "axis": null},
        "color": {"field": "series", "type": "nominal"}
      }
    },
    {
      "transform": [{"filter": "datum.series === 'Yamamuro1978b'"}],
      "mark": {"type": "point", "filled": true, "shape": "circle", "size": 10, "opacity": 1, "clip": true},
      "encoding": {
        "x": {"field": "E", "type": "quantitative", "scale": {"type": "log", "domain": [0.01, 100000], "nice": false}, "axis": null},
        "y": {"field": "s", "type": "quantitative", "scale": {"type": "log", "domain": [0.001, 10000], "nice": false}, "axis": null},
        "color": {"field": "series", "type": "nominal"}
      }
    },
    {
      "transform": [{"filter": "datum.series === 'Macklin1982'"}],
      "mark": {"type": "point", "filled": false, "shape": "triangle-up", "size": 14, "opacity": 1, "clip": true},
      "encoding": {
        "x": {"field": "E", "type": "quantitative", "scale": {"type": "log", "domain": [0.01, 100000], "nice": false}, "axis": null},
        "y": {"field": "s", "type": "quantitative", "scale": {"type": "log", "domain": [0.001, 10000], "nice": false}, "axis": null},
        "color": {"field": "series", "type": "nominal"}
      }
    },
    {
      "transform": [{"filter": "datum.series === 'Yamamuro1983'"}],
      "mark": {"type": "point", "filled": true, "shape": "triangle-up", "size": 14, "opacity": 1, "clip": true},
      "encoding": {
        "x": {"field": "E", "type": "quantitative", "scale": {"type": "log", "domain": [0.01, 100000], "nice": false}, "axis": null},
        "y": {"field": "s", "type": "quantitative", "scale": {"type": "log", "domain": [0.001, 10000], "nice": false}, "axis": null},
        "color": {"field": "series", "type": "nominal"}
      }
    },
    {
      "transform": [{"filter": "datum.series === 'Boknovko1991'"}],
      "mark": {"type": "point", "filled": true, "shape": "triangle-down", "size": 14, "opacity": 1, "clip": true},
      "encoding": {
        "x": {"field": "E", "type": "quantitative", "scale": {"type": "log", "domain": [0.01, 100000], "nice": false}, "axis": null},
        "y": {"field": "s", "type": "quantitative", "scale": {"type": "log", "domain": [0.001, 10000], "nice": false}, "axis": null},
        "color": {"field": "series", "type": "nominal"}
      }
    }
  ]
}
